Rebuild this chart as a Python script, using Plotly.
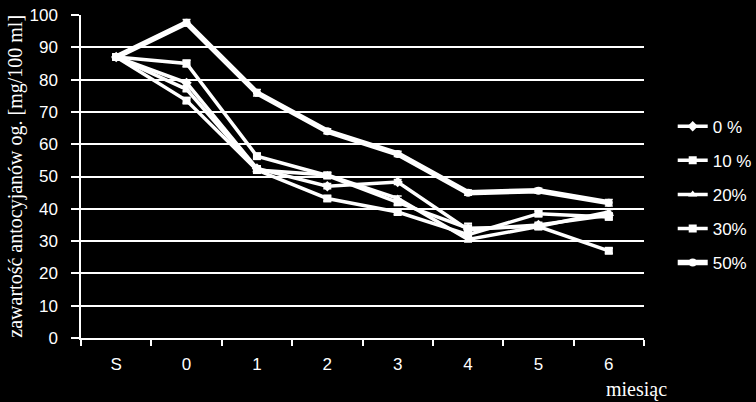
import plotly.graph_objects as go

months = ["S", "0", "1", "2", "3", "4", "5", "6"]

# zawartosc antocyjanow [mg/100 ml]
s0 = [87.0, 79.0, 52.5, 47.0, 48.3, 33.5, 35.0, 38.0]
s10 = [87.0, 73.5, 52.0, 43.2, 39.0, 32.0, 38.5, 37.5]
s20 = [87.0, 77.0, 52.0, 50.5, 43.2, 30.5, 34.5, 39.0]
s30 = [87.0, 85.0, 56.3, 50.3, 42.0, 34.0, 34.5, 27.0]
s50 = [87.0, 97.6, 75.9, 64.0, 57.0, 45.0, 45.6, 41.9]

err0 = [0.5, 0.8, 0.8, 0.8, 0.8, 2.0, 0.8, 0.8]
err10 = [0.5, 0.8, 0.8, 0.8, 0.8, 0.8, 0.8, 0.8]
err20 = [0.5, 0.8, 0.8, 0.8, 0.8, 0.8, 0.8, 0.8]
err30 = [0.5, 1.0, 0.8, 0.8, 0.8, 0.8, 0.8, 0.8]
err50 = [0.5, 1.0, 1.0, 0.8, 0.8, 0.8, 0.8, 1.0]

names = ["0 %", "10 %", "20%", "30%", "50%"]
series = [s0, s10, s20, s30, s50]
errors = [err0, err10, err20, err30, err50]
symbols = ["diamond", "square", "triangle-up", "square", "circle"]
widths = [3.5, 3.5, 3.5, 3.5, 5.5]

fig = go.Figure()
for name, vals, err, sym, w in zip(names, series, errors, symbols, widths):
    fig.add_trace(go.Scatter(
        x=months, y=vals, name=name, legendgroup=name,
        mode="lines+markers",
        line=dict(color="white", width=w),
        marker=dict(symbol=sym, size=8, color="white"),
        error_y=dict(type="data", array=err, color="white", thickness=1.5, width=4),
    ))

axis_font = dict(family="Liberation Sans, Arial", size=17, color="white")
serif = dict(family="Liberation Serif, Times New Roman", size=20, color="white")

fig.update_layout(
    width=756, height=402,
    paper_bgcolor="black", plot_bgcolor="black",
    margin=dict(l=81, r=112, t=15, b=64, autoexpand=False),
    showlegend=True,
    legend=dict(x=1.051, xanchor="left", y=0.71, yanchor="top",
                font=axis_font, bgcolor="rgba(0,0,0,0)",
                tracegroupgap=9, traceorder="grouped"),
    xaxis=dict(type="category", range=[-0.5, 7.5], tickson="boundaries",
               automargin=False,
               ticks="outside", ticklen=6, tickcolor="white", tickwidth=1.5,
               showline=True, linecolor="white", linewidth=1.5,
               showgrid=False, tickfont=axis_font, ticklabelstandoff=10),
    yaxis=dict(range=[0, 100], dtick=10, ticks="outside", ticklen=8,
               automargin=False,
               tickcolor="white", tickwidth=1.5,
               showline=True, linecolor="white", linewidth=1.5,
               showgrid=True, gridcolor="white", gridwidth=1.5,
               zeroline=False, tickfont=axis_font, ticklabelstandoff=10),
    annotations=[
        dict(text="zawartość antocyjanów og. [mg/100 ml]", textangle=-90,
             xref="paper", yref="paper", x=-0.117, y=0.5,
             xanchor="center", yanchor="middle", showarrow=False, font=serif),
        dict(text="miesiąc", xref="paper", yref="paper", x=0.987, y=-0.158,
             xanchor="center", yanchor="middle", showarrow=False, font=serif),
    ],
)

fig.write_html("out.html", config={"displayModeBar": False},
               post_script="document.body.style.margin='0';document.body.style.background='black';")
